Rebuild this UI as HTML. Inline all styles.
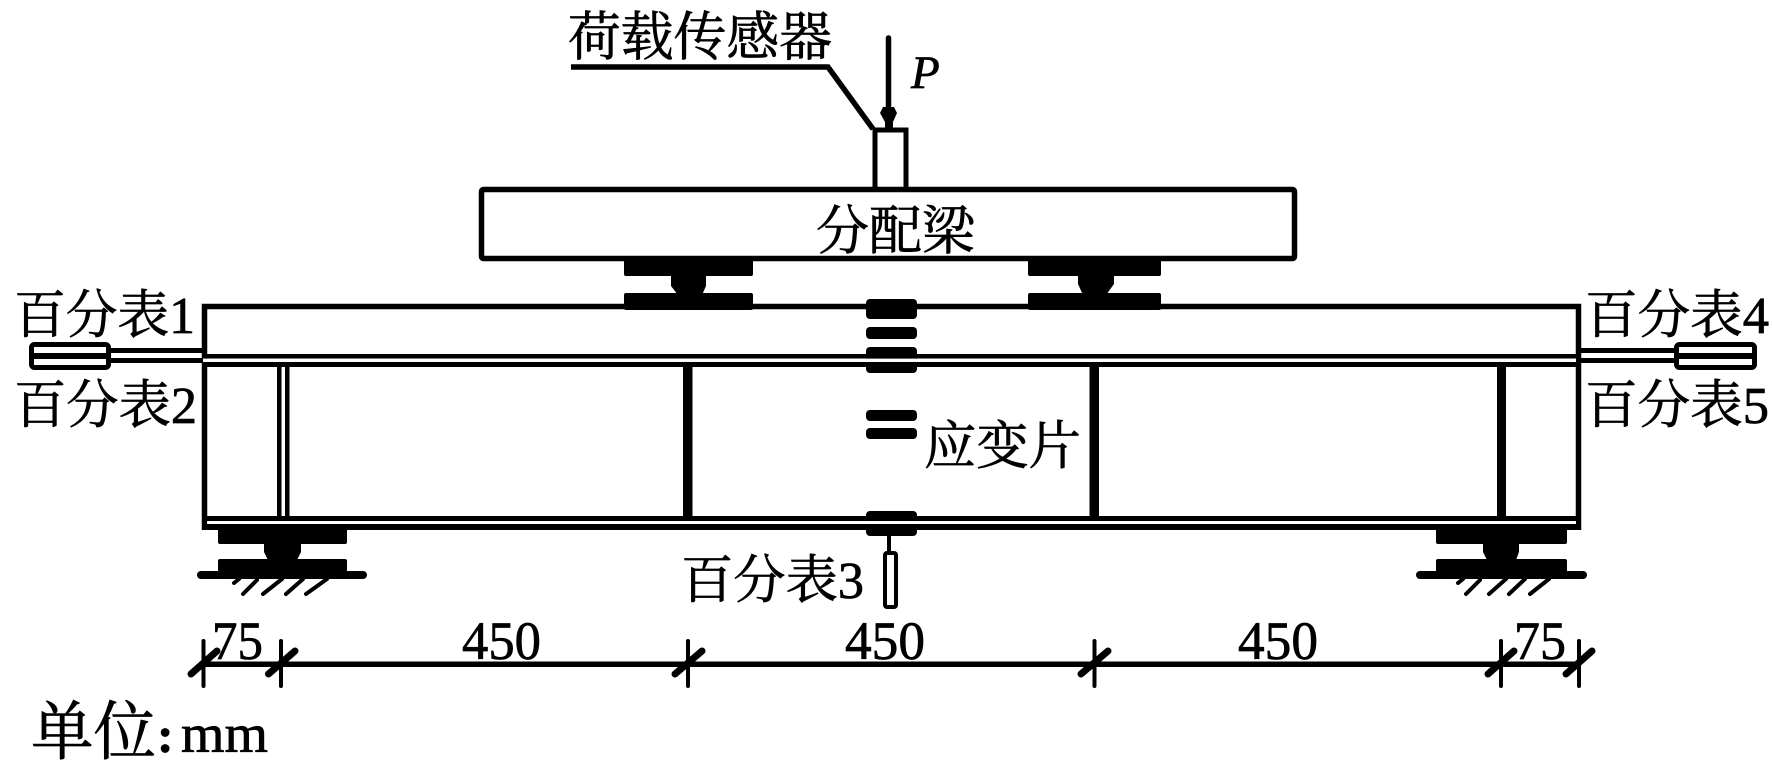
<!DOCTYPE html>
<html>
<head>
<meta charset="utf-8">
<style>
html,body{margin:0;padding:0;background:#fff;width:1772px;height:767px;overflow:hidden}
svg{display:block}
text{font-family:"Liberation Serif","Noto Serif CJK SC",serif;fill:#000;stroke:#000;stroke-width:.7px}
</style>
</head>
<body>
<svg width="1772" height="767" viewBox="0 0 1772 767" xmlns="http://www.w3.org/2000/svg">
<rect width="1772" height="767" fill="#fff"/>

<!-- load arrow and sensor -->
<path d="M888.5 38V110" stroke="#000" stroke-width="5.5" stroke-linecap="round" fill="none"/>
<path d="M883 107H894L897 113L893 122V128H885V122L880 113Z" fill="#000"/>
<rect x="875" y="130" width="31" height="60" fill="#fff" stroke="#000" stroke-width="5"/>
<path d="M571 67H828L873 129" fill="none" stroke="#000" stroke-width="5.5" stroke-linejoin="miter"/>

<!-- distribution beam -->
<rect x="481.5" y="189.5" width="813" height="69" rx="2" fill="#fff" stroke="#000" stroke-width="5.5"/>

<!-- load pads -->
<g fill="#000">
<rect x="624" y="258" width="129" height="18" rx="2"/>
<path d="M671 275H706V286L702 295H678L671 286Z"/>
<rect x="624" y="293" width="129" height="17" rx="2"/>
<rect x="1028" y="258" width="133" height="18" rx="2"/>
<path d="M1078 275H1114V284L1106 295H1083L1078 284Z"/>
<rect x="1028" y="293" width="133" height="17" rx="2"/>
</g>

<!-- main beam -->
<path d="M204.5 530V306.5H1578.5V530" fill="none" stroke="#000" stroke-width="5.5"/>
<g fill="#000">
<rect x="202" y="354" width="1379" height="4.6"/>
<rect x="202" y="362" width="1379" height="5"/>
<rect x="202" y="516" width="1379" height="5"/>
<rect x="202" y="524" width="1379" height="6"/>
<!-- stiffeners -->
<rect x="277" y="367" width="4.500" height="149"/>
<rect x="285" y="367" width="4.500" height="149"/>
<rect x="683" y="367" width="9.500" height="149"/>
<rect x="1089.500" y="367" width="9.500" height="149"/>
<rect x="1497" y="367" width="9" height="149"/>
<!-- strain gauges -->
<rect x="866" y="299" width="51" height="20" rx="4"/>
<rect x="866" y="327" width="51" height="12" rx="4"/>
<rect x="866" y="347" width="51" height="26" rx="4"/>
<rect x="866" y="410" width="51" height="11" rx="4"/>
<rect x="866" y="428" width="51" height="11" rx="4"/>
<rect x="866" y="511" width="51" height="25" rx="4"/>
</g>
<rect x="203" y="358.600" width="1373" height="3.400" fill="#fff"/>
<rect x="207" y="521" width="1369" height="3" fill="#fff"/>

<!-- left dial gauge -->
<rect x="31.500" y="344.500" width="77" height="23" rx="3" fill="#fff" stroke="#000" stroke-width="5"/>
<rect x="31" y="353" width="78" height="6" fill="#000"/>
<rect x="108" y="348" width="95" height="5" fill="#000"/>
<rect x="108" y="358" width="95" height="5" fill="#000"/>
<!-- right dial gauge -->
<rect x="1676.500" y="344.500" width="78" height="23" rx="3" fill="#fff" stroke="#000" stroke-width="5"/>
<rect x="1676" y="353" width="79" height="6" fill="#000"/>
<rect x="1580" y="348" width="97" height="5" fill="#000"/>
<rect x="1580" y="358" width="97" height="5" fill="#000"/>
<!-- bottom dial gauge -->
<rect x="887" y="536" width="4" height="16" fill="#000"/>
<rect x="885" y="553" width="11" height="54" rx="2" fill="#fff" stroke="#000" stroke-width="4"/>

<!-- left support -->
<g fill="#000">
<rect x="218" y="528" width="129" height="16" rx="2"/>
<path d="M264 543H301V552L297 560H268L264 552Z"/>
<rect x="218" y="559" width="129" height="13" rx="2"/>
<rect x="197" y="571" width="170" height="8" rx="4"/>
<!-- right support -->
<rect x="1436" y="528" width="131" height="16" rx="2"/>
<path d="M1483 543H1519V552L1516 560H1487L1483 552Z"/>
<rect x="1436" y="559" width="131" height="13" rx="2"/>
<rect x="1416" y="571" width="171" height="8" rx="4"/>
</g>
<g stroke="#000" stroke-width="4" stroke-linecap="round" fill="none">
<path d="M234 583L239 579M243 594L257 580M263 594L282 579M286 594L303 579M306 594L327 579"/>
<path d="M1458 583L1463 579M1466 594L1480 580M1489 594L1506 579M1509 594L1525 579M1530 594L1549 579"/>
</g>

<!-- dimension line -->
<rect x="203" y="661.500" width="1376" height="5.500" fill="#000"/>
<g stroke="#000" stroke-width="4" stroke-linecap="round" fill="none">
<path d="M203.500 641V686M281 641V686M688 641V686M1094.500 641V686M1501 641V686M1579 641V686"/>
</g>
<g stroke="#000" stroke-width="7" stroke-linecap="round" fill="none">
<path d="M191 674L217 651M268.500 674L295 651M675 674L702 651M1081 674L1108 651M1488 674L1514 651M1566 674L1592 651"/>
</g>

<!-- labels -->
<text x="568" y="55" font-size="53" textLength="264" lengthAdjust="spacingAndGlyphs">荷载传感器</text>
<text x="911" y="88" font-size="47" font-style="italic">P</text>
<text x="816" y="249" font-size="53" textLength="159" lengthAdjust="spacingAndGlyphs">分配梁</text>
<text x="14" y="333" font-size="52" textLength="181" lengthAdjust="spacingAndGlyphs">百分表1</text>
<text x="14" y="423" font-size="52" textLength="183" lengthAdjust="spacingAndGlyphs">百分表2</text>
<text x="681" y="598" font-size="52" textLength="183" lengthAdjust="spacingAndGlyphs">百分表3</text>
<text x="1585" y="333" font-size="52" textLength="184" lengthAdjust="spacingAndGlyphs">百分表4</text>
<text x="1585" y="423" font-size="52" textLength="184" lengthAdjust="spacingAndGlyphs">百分表5</text>
<text x="924" y="464" font-size="52" textLength="157" lengthAdjust="spacingAndGlyphs">应变片</text>
<text x="212" y="659" font-size="54" textLength="51" lengthAdjust="spacingAndGlyphs">75</text>
<text x="462" y="659" font-size="54" textLength="79" lengthAdjust="spacingAndGlyphs">450</text>
<text x="845" y="659" font-size="54" textLength="80" lengthAdjust="spacingAndGlyphs">450</text>
<text x="1238" y="659" font-size="54" textLength="80" lengthAdjust="spacingAndGlyphs">450</text>
<text x="1514" y="659" font-size="54" textLength="52" lengthAdjust="spacingAndGlyphs">75</text>
<text x="31" y="754" font-size="64" textLength="125" lengthAdjust="spacingAndGlyphs">单位</text>
<text x="157" y="752" font-size="50" font-weight="bold">:</text>
<text x="181" y="752" font-size="54" textLength="87" lengthAdjust="spacingAndGlyphs">mm</text>
</svg>
</body>
</html>
